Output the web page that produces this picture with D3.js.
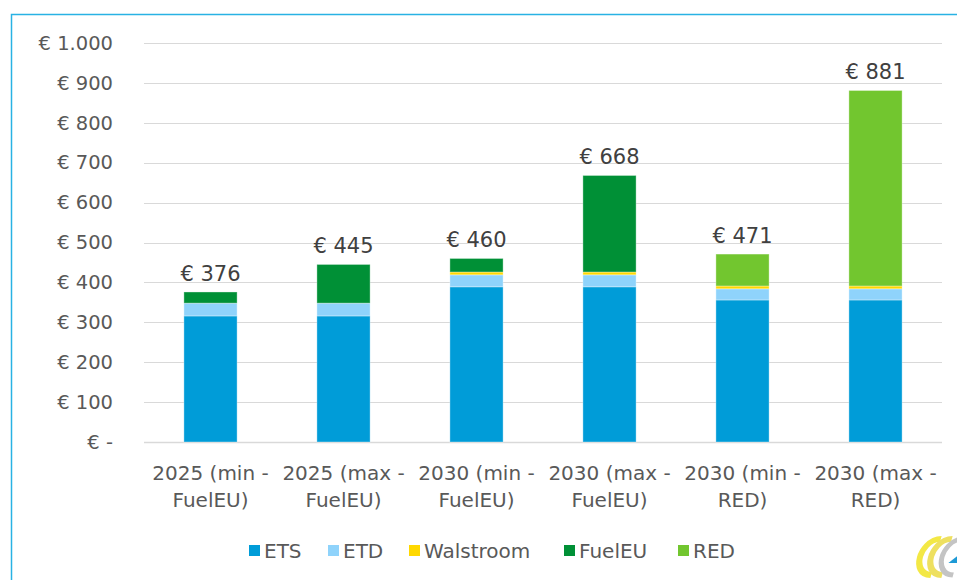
<!DOCTYPE html>
<html>
<head>
<meta charset="utf-8">
<script src="https://cdn.jsdelivr.net/npm/d3@7"></script>
<style>
  body { margin: 0; background: #fff; }
  svg { display: block; }
</style>
</head>
<body>
<div id="chart"></div>
<script>
const categories = [
  ["2025 (min -", "FuelEU)"],
  ["2025 (max -", "FuelEU)"],
  ["2030 (min -", "FuelEU)"],
  ["2030 (max -", "FuelEU)"],
  ["2030 (min -", "RED)"],
  ["2030 (max -", "RED)"]
];
const seriesNames = ["ETS", "ETD", "Walstroom", "FuelEU", "RED"];
const ets = [316, 316, 389, 389, 356, 356];
const etd = [32, 32, 30, 30, 28, 28];
const walstroom = [0, 0, 7, 7, 7, 7];
const fuelEU = [28, 97, 34, 242, 0, 0];
const red = [0, 0, 0, 0, 80, 490];
const totals = [376, 445, 460, 668, 471, 881];
const yTicks = [0, 100, 200, 300, 400, 500, 600, 700, 800, 900, 1000];
const colors = ["#009cd8", "#8fd3fb", "#ffd800", "#009036", "#72c62f"];

const width = 957;
const height = 580;
const font = "'DejaVu Sans', sans-serif";

const rows = categories.map((c, i) => ({
  i: i,
  ETS: ets[i],
  ETD: etd[i],
  Walstroom: walstroom[i],
  FuelEU: fuelEU[i],
  RED: red[i]
}));

const svg = d3.select("#chart").append("svg")
  .attr("width", width)
  .attr("height", height);

// frame
svg.append("path")
  .attr("d", "M11.5,580 V14.5 H957")
  .attr("fill", "none")
  .attr("stroke", "#29b2e4")
  .attr("stroke-width", 1.5);

const x = d3.scaleBand()
  .domain(d3.range(categories.length))
  .range([144, 942])
  .paddingInner(0.6)
  .paddingOuter(0.3);

const y = d3.scaleLinear().domain([0, 1000]).range([442, 43]);

// gridlines
svg.append("g")
  .selectAll("line")
  .data(yTicks)
  .join("line")
  .attr("x1", 144)
  .attr("x2", 942)
  .attr("y1", d => Math.round(y(d)) + 0.5)
  .attr("y2", d => Math.round(y(d)) + 0.5)
  .attr("stroke", "#d9d9d9")
  .attr("stroke-width", d => d === 0 ? 1.5 : 1.2);

const fmt = d => d === 0 ? "€ -" : "€ " + d3.format(",")(d).replace(/,/g, ".");

const yAxis = d3.axisLeft(y).tickValues(yTicks).tickFormat(fmt).tickSize(0).tickPadding(0);
svg.append("g")
  .attr("transform", "translate(113,0)")
  .call(yAxis)
  .call(g => g.select(".domain").remove())
  .selectAll("text")
  .attr("font-family", font)
  .attr("font-size", 19.5)
  .attr("fill", "#595959");

const stack = d3.stack().keys(seriesNames);
const stacked = stack(rows);

svg.append("g")
  .selectAll("g")
  .data(stacked)
  .join("g")
  .attr("fill", (d, i) => colors[i])
  .selectAll("rect")
  .data(d => d.filter(p => p[1] > p[0]))
  .join("rect")
  .attr("x", d => x(d.data.i))
  .attr("width", x.bandwidth())
  .attr("y", d => y(d[1]))
  .attr("height", d => y(d[0]) - y(d[1]))
  .attr("stroke", "#ffffff")
  .attr("stroke-opacity", 0.35)
  .attr("stroke-width", 1);

// total labels
svg.append("g")
  .selectAll("text")
  .data(totals)
  .join("text")
  .attr("x", (d, i) => x(i) + x.bandwidth() / 2)
  .attr("y", d => y(d) - 11)
  .attr("text-anchor", "middle")
  .attr("font-family", font)
  .attr("font-size", 21)
  .attr("fill", "#404040")
  .text(d => "€ " + d);

// category labels
const catText = svg.append("g")
  .selectAll("text")
  .data(categories)
  .join("text")
  .attr("text-anchor", "middle")
  .attr("font-family", font)
  .attr("font-size", 20)
  .attr("fill", "#595959")
  .attr("transform", (d, i) => `translate(${x(i) + x.bandwidth() / 2},0)`);
catText.selectAll("tspan")
  .data(d => d)
  .join("tspan")
  .attr("x", 0)
  .attr("y", (d, j) => 480 + j * 27)
  .text(d => d);

// legend
const legendX = [249, 328, 409, 564, 678];
const legend = svg.append("g")
  .selectAll("g")
  .data(seriesNames)
  .join("g")
  .attr("transform", (d, i) => `translate(${legendX[i]},0)`);
legend.append("rect")
  .attr("x", 0)
  .attr("y", 545)
  .attr("width", 11)
  .attr("height", 11)
  .attr("fill", (d, i) => colors[i]);
legend.append("text")
  .attr("x", 15)
  .attr("y", 558)
  .attr("font-family", font)
  .attr("font-size", 20)
  .attr("fill", "#595959")
  .text(d => d);

// logo in the corner (cut off at the right edge)
const logo = svg.append("g").attr("transform", "translate(936,557) skewX(-15)");
const arc = "M6,-18 C-6,-18 -10,-6 -10,0 C-10,8 -5,18 6,18";
logo.append("path").attr("d", arc).attr("transform", "translate(-6,0)")
  .attr("fill", "none").attr("stroke", "#f3e845").attr("stroke-width", 6);
logo.append("path").attr("d", arc).attr("transform", "translate(5,0)")
  .attr("fill", "none").attr("stroke", "#eee060").attr("stroke-width", 6);
logo.append("path").attr("d", arc).attr("transform", "translate(16,0)")
  .attr("fill", "none").attr("stroke", "#c4c4c4").attr("stroke-width", 5);
logo.append("path").attr("d", "M14,6 L24,-4 L24,6 Z").attr("fill", "#1e9ad6");
</script>
</body>
</html>
